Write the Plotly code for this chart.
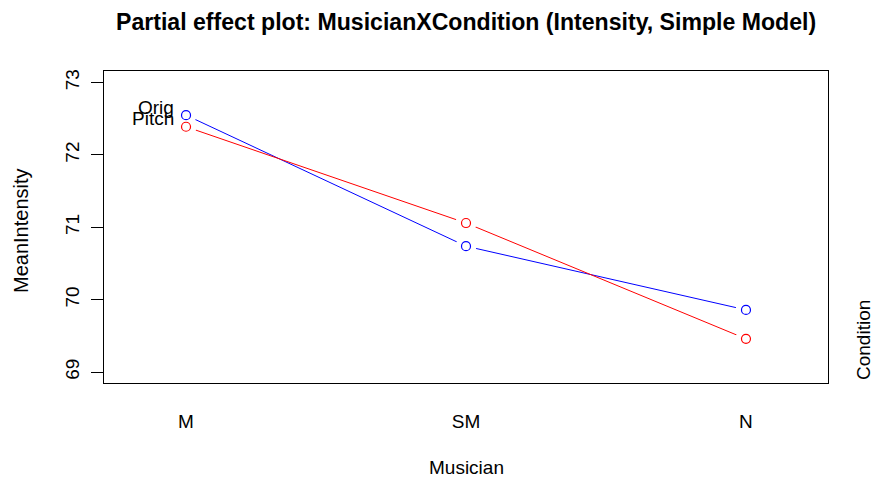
import plotly.graph_objects as go

# Data: partial effects of Musician level, one line per Condition
musician = ["M", "SM", "N"]
orig_vals = [72.55, 70.74, 69.86]
pitch_vals = [72.39, 71.06, 69.46]
y_ticks = [69, 70, 71, 72, 73]

series = [
    ("Orig", orig_vals, "#0000FF"),
    ("Pitch", pitch_vals, "#FF0000"),
]

FONT = "Liberation Sans, Arial, Helvetica, sans-serif"
W, H = 873, 478
ML, MR, MT, MB = 104, 45, 71, 95
PW = W - ML - MR
PH = H - MT - MB


def py(pix):
    """Convert a pixel row (from the top of the page) into paper units."""
    return (H - MB - pix) / PH


def px(pix):
    """Convert a pixel column (from the left of the page) into paper units."""
    return (pix - ML) / PW


fig = go.Figure()
x_idx = [1, 2, 3]

# connecting lines
for name, vals, col in series:
    fig.add_trace(go.Scatter(x=x_idx, y=vals, mode="lines",
                             line=dict(color=col, width=1), showlegend=False,
                             hoverinfo="skip"))
# white discs leave a gap in the line around each point (type="b" look)
for name, vals, col in series:
    fig.add_trace(go.Scatter(x=x_idx, y=vals, mode="markers",
                             marker=dict(size=21, color="white", line=dict(width=0)),
                             showlegend=False, hoverinfo="skip"))
# open circle points
for name, vals, col in series:
    fig.add_trace(go.Scatter(x=x_idx, y=vals, mode="markers",
                             marker=dict(symbol="circle-open", size=9, color=col,
                                         line=dict(width=1.2, color=col)),
                             showlegend=False, hoverinfo="skip"))

# series labels at the left of the first points
for name, vals, col in series:
    fig.add_annotation(x=x_idx[0], y=vals[0], xref="x", yref="y", text=name,
                       showarrow=False, xanchor="right", yanchor="middle",
                       xshift=-10, yshift=8,
                       font=dict(family=FONT, size=19, color="black"))

# title
fig.add_annotation(x=0.5, xref="paper", y=py(22), yref="paper",
                   yanchor="middle", xanchor="center", showarrow=False,
                   text="<b>Partial effect plot: MusicianXCondition (Intensity, Simple Model)</b>",
                   font=dict(family=FONT, size=23.1, color="black"))
# x-axis title
fig.add_annotation(x=0.5, xref="paper", y=py(467), yref="paper", yanchor="middle",
                   showarrow=False, text="Musician",
                   font=dict(family=FONT, size=19, color="black"))
# y-axis title
fig.add_annotation(x=px(21), xref="paper", y=py(231), yref="paper",
                   xanchor="center", yanchor="middle",
                   textangle=-90, showarrow=False, text="MeanIntensity",
                   font=dict(family=FONT, size=20, color="black"))
# right-hand label
fig.add_annotation(x=px(863), xref="paper", y=py(340), yref="paper",
                   xanchor="center", yanchor="middle",
                   textangle=-90, showarrow=False, text="Condition",
                   font=dict(family=FONT, size=19, color="black"))

fig.update_layout(
    width=W, height=H,
    margin=dict(l=ML, r=MR, t=MT, b=MB),
    paper_bgcolor="white", plot_bgcolor="white",
    font=dict(family=FONT, size=19, color="black"),
    hovermode=False,
    xaxis=dict(range=[0.707, 3.293], tickvals=x_idx, ticktext=musician,
               ticks="", showgrid=False, zeroline=False,
               showline=True, mirror=True, linecolor="black", linewidth=1,
               ticklabelstandoff=21, tickfont=dict(family=FONT, size=19)),
    yaxis=dict(range=[68.85, 73.16], tickvals=y_ticks,
               ticktext=[str(v) for v in y_ticks],
               ticks="outside", ticklen=12, tickwidth=1, tickcolor="black",
               tickangle=-90, showgrid=False, zeroline=False,
               showline=True, mirror=True, linecolor="black", linewidth=1,
               ticklabelstandoff=4, tickfont=dict(family=FONT, size=19)),
)

fig.write_html("out.html")
